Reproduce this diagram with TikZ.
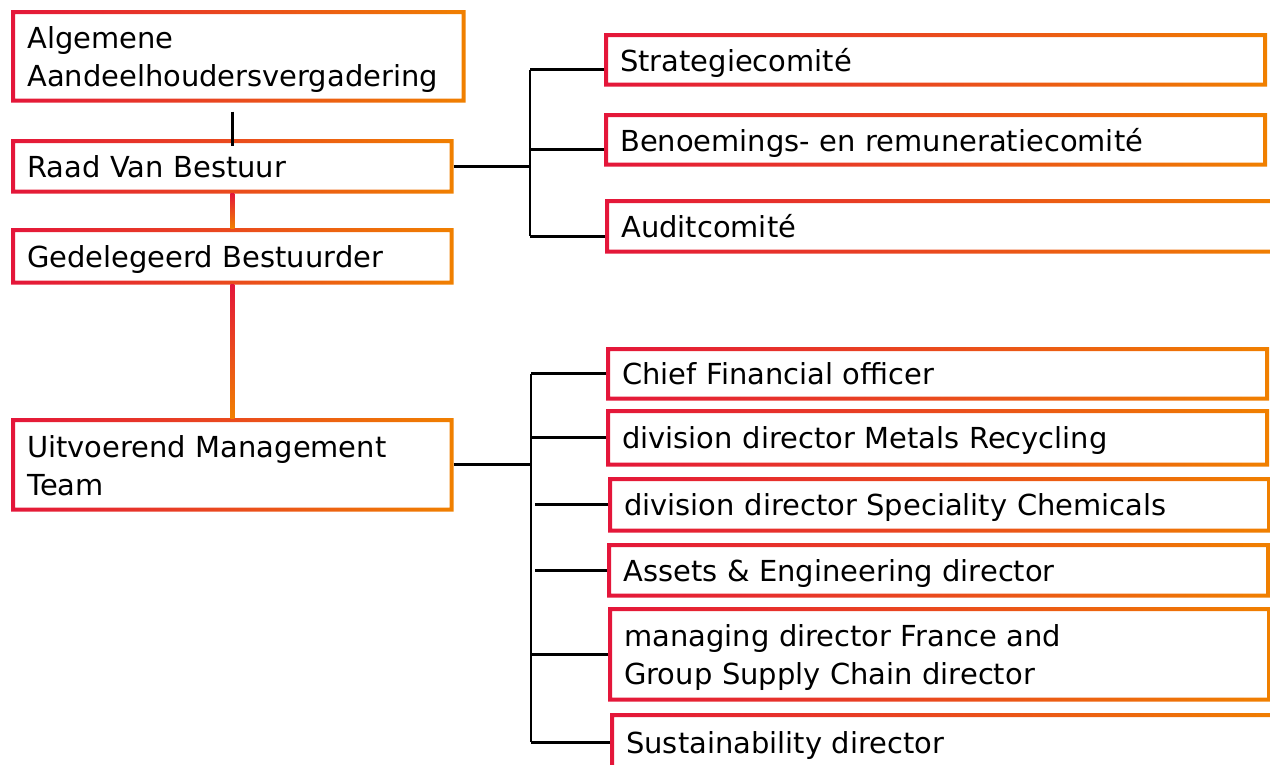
\documentclass[tikz,border=0pt]{standalone}
\usepackage{fontspec}
\setmainfont{DejaVu Sans}
\usepackage{tikz}
\usetikzlibrary{calc}

\definecolor{ured}{RGB}{228,22,58}
\definecolor{uorange}{RGB}{240,128,0}

\tikzset{
  orgbox/.style={anchor=north west, draw=none, inner xsep=12pt, inner ysep=0pt,
    align=left, text depth=0pt, font=\fontsize{21.7pt}{28.5pt}\selectfont},
  twoline/.style={text depth=, execute at begin node={\rule{0pt}{#1}}},
  leftbox/.style={orgbox, minimum width=331.5pt, text width=307.5pt},
  rightbox/.style={orgbox, minimum width=497pt, text width=473pt},
  widebox/.style={orgbox, minimum width=505pt, text width=481pt},
  link/.style={draw=black, line width=2pt},
}

\begin{document}
\begin{tikzpicture}[x=0.75pt,y=-0.75pt]
     \useasboundingbox (0,0) rectangle (1270,764);

     % bestuur
     \node[orgbox, twoline=21pt, minimum width=340.5pt, text width=316.5pt, minimum height=69pt] (aav) at (11,10) {Algemene\\Aandeelhoudersvergadering};
     \node[leftbox, minimum height=40.5pt] (rvb) at (11,139) {Raad Van Bestuur};
     \node[leftbox, minimum height=42pt] (gb) at (11,228) {Gedelegeerd Bestuurder};
     \node[leftbox, twoline=18pt, minimum height=69.75pt] (umt) at (11,418) {Uitvoerend Management\\Team};

     % comites
     \node[rightbox, minimum height=39.75pt] (sc) at (604,33) {Strategiecomité};
     \node[rightbox, minimum height=39.75pt] (brc) at (604,113) {Benoemings- en remuneratiecomité};
     \node[widebox, minimum height=40.5pt] (ac) at (605,199) {Auditcomité};

     % management team
     \node[rightbox, minimum height=39.75pt] (cfo) at (606,347) {Chief Financial officer};
     \node[rightbox, minimum height=42.75pt] (mr) at (606,409) {division director Metals Recycling};
     \node[rightbox, minimum height=41.25pt] (sch) at (608,477) {division director Speciality Chemicals};
     \node[rightbox, minimum height=40.5pt] (ae) at (607,543) {Assets \& Engineering director};
     \node[rightbox, twoline=21pt, minimum height=70.5pt] (md) at (608,607) {managing director France and\\Group Supply Chain director};
     \node[widebox, minimum height=43.5pt] (sd) at (610,713) {Sustainability director};

     \foreach \n in {aav,rvb,gb,umt,sc,brc,ac,cfo,mr,sch,ae,md,sd}
       \shade[left color=ured, right color=uorange, even odd rule]
         (\n.south west) rectangle (\n.north east)
         ([shift={(3pt,3pt)}]\n.south west) rectangle ([shift={(-3pt,-3pt)}]\n.north east);

     % verbindingen links
     \draw[link] ($(aav.south -| rvb.north)+(0,9)$) -- ($(rvb.north)+(0,7)$);
     \shade[top color=ured, bottom color=uorange] ($(rvb.south)+(-2,0)$) rectangle ($(gb.north)+(2,0)$);
     \shade[top color=ured, bottom color=uorange] ($(gb.south)+(-2,0)$) rectangle ($(umt.north)+(2,0)$);

     % verbindingen rechts
     \coordinate (topbus) at (530,0);
     \coordinate (lowbus) at (531,0);
     \draw[link] (rvb.east) -- (rvb.east -| topbus);
     \draw[link] ($(sc.west -| topbus)+(0,10)$) -- ($(ac.west -| topbus)+(0,10)$);
     \foreach \n in {sc,brc,ac}
       \draw[link] ($(\n.west)+(0,10)$) -- ($(\n.west -| topbus)+(0,10)$);
     \draw[link] (umt.east) -- (umt.east -| lowbus);
     \draw[link] (cfo.west -| lowbus) -- (sd.west -| lowbus);
     \foreach \n/\gap in {cfo/0,mr/0,sch/4,ae/4,md/0,sd/0}
       \draw[link] (\n.west) -- ($(\n.west -| lowbus)+(\gap,0)$);

   \end{tikzpicture}
\end{document}
